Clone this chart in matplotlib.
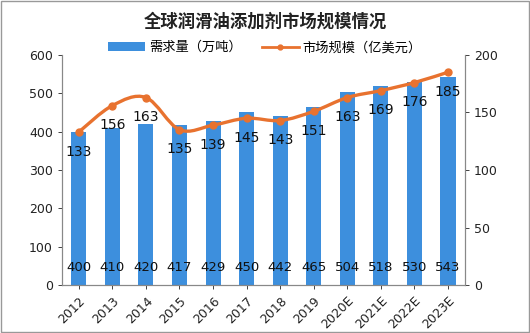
import matplotlib
matplotlib.use("Agg")
import matplotlib.pyplot as plt
import numpy as np
from matplotlib.path import Path
from matplotlib.patches import PathPatch, Rectangle
from matplotlib.lines import Line2D
from matplotlib.patches import Patch

plt.rcParams['font.family'] = ['Noto Sans CJK SC', 'DejaVu Sans']

years = ['2012', '2013', '2014', '2015', '2016', '2017', '2018', '2019',
         '2020E', '2021E', '2022E', '2023E']
demand = [400, 410, 420, 417, 429, 450, 442, 465, 504, 518, 530, 543]
market = [133, 156, 163, 135, 139, 145, 143, 151, 163, 169, 176, 185]

bar_color = '#3d8fdd'
line_color = '#e8722f'
num_font = ['DejaVu Sans']

fig = plt.figure(figsize=(5.30, 3.33), dpi=100)
ax = fig.add_axes([0.117, 0.144, 0.760, 0.691])
ax2 = ax.twinx()

x = np.arange(len(years))
ax.bar(x, demand, width=0.45, color=bar_color, zorder=2)
ax.set_ylim(0, 600)
ax.set_xlim(-0.5, len(years) - 0.5)
ax.set_yticks(np.arange(0, 601, 100))
ax.set_xticks(x)
ax.set_xticklabels(years, rotation=45, ha='right', va='top', rotation_mode='anchor',
                   fontsize=9, family=num_font)
for xi, v in zip(x, demand):
    ax.text(xi, 45, str(v), ha='center', va='center', fontsize=9.5, color='#111111',
            zorder=5, family=num_font)

# smoothed line via Catmull-Rom -> Bezier path
ax2.set_ylim(0, 200)
ax2.set_yticks(np.arange(0, 201, 50))
pts = np.column_stack([x, market]).astype(float)
verts = [tuple(pts[0])]
codes = [Path.MOVETO]
n = len(pts)
for i in range(n - 1):
    p0 = pts[i - 1] if i > 0 else pts[i]
    p1 = pts[i]
    p2 = pts[i + 1]
    p3 = pts[i + 2] if i + 2 < n else pts[i + 1]
    c1 = p1 + (p2 - p0) / 6.0
    c2 = p2 - (p3 - p1) / 6.0
    verts += [tuple(c1), tuple(c2), tuple(p2)]
    codes += [Path.CURVE4] * 3
ax2.add_patch(PathPatch(Path(verts, codes), facecolor='none', edgecolor=line_color, lw=2.4, zorder=3))
ax2.plot(x, market, 'o', color=line_color, ms=5, zorder=4)
for xi, v in zip(x, market):
    ax2.text(xi, v - 17, str(v), ha='center', va='center', fontsize=10, color='#111111',
             zorder=5, family=num_font)

for a in (ax, ax2):
    a.spines['top'].set_visible(False)
    for s in ('left', 'right', 'bottom'):
        a.spines[s].set_color('#888888')
        a.spines[s].set_linewidth(0.8)
    a.tick_params(labelsize=9, colors='#222222', length=3, width=0.6)
    for lab in a.get_yticklabels():
        lab.set_family(num_font)
ax.set_zorder(1)
ax2.set_zorder(2)
ax.patch.set_visible(False)

fig.text(0.5, 0.934, '全球润滑油添加剂市场规模情况', ha='center', va='center',
         fontsize=12.5, fontweight='bold', color='#222222')

handles = [Patch(facecolor=bar_color, label='需求量（万吨）'),
           Line2D([0], [0], color=line_color, lw=2, marker='o', ms=3.5, label='市场规模（亿美元）')]
fig.legend(handles=handles, loc='center', bbox_to_anchor=(0.5, 0.857), ncol=2, frameon=False,
           fontsize=9.5, handlelength=2.8, handleheight=0.7, columnspacing=1.5, handletextpad=0.3)

fig.patches.append(Rectangle((0.002, 0.003), 0.996, 0.994, transform=fig.transFigure,
                             fill=False, edgecolor='#999999', lw=1))

fig.savefig('out.png', dpi=100)
